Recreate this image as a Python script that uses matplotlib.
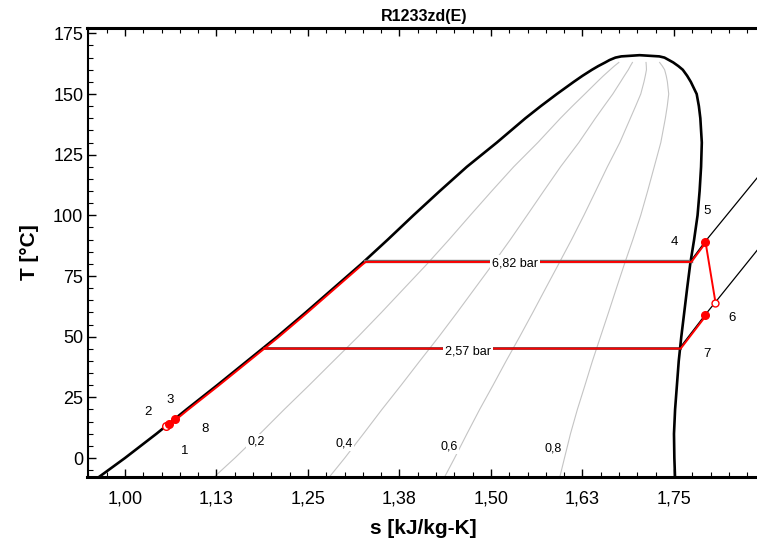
import numpy as np
import matplotlib.pyplot as plt
from matplotlib.ticker import MultipleLocator
from matplotlib import transforms

plt.rcParams['font.family'] = ['Liberation Sans', 'DejaVu Sans']

# saturation dome
T_sat = [-7.7, 0, 10, 20, 30, 40, 50, 60, 70, 80, 90, 100, 110, 120,
         130, 140, 145, 150, 155, 157.5, 160, 161.5, 163, 164, 165, 165.5, 166]
s_liq = [0.965, 1.000, 1.043, 1.084, 1.126, 1.167, 1.208, 1.247, 1.285, 1.323,
         1.359, 1.394, 1.430, 1.467, 1.508, 1.547, 1.568, 1.590, 1.613, 1.625,
         1.638, 1.6465, 1.656, 1.662, 1.670, 1.678, 1.703]
s_vap = [1.7514, 1.7505, 1.7500, 1.7515, 1.7540, 1.7565, 1.7600, 1.7640, 1.7680,
         1.7722, 1.7775, 1.7822, 1.7850, 1.7870, 1.7880, 1.7860, 1.7840, 1.7810,
         1.7730, 1.7680, 1.7620, 1.7560, 1.7490, 1.7430, 1.7370, 1.7300, 1.703]

# vapour quality lines
qualities = [0.2, 0.4, 0.6, 0.8]
q_labels = ["0,2", "0,4", "0,6", "0,8"]
q_label_s = [1.179, 1.2996, 1.443, 1.585]
q_label_T = [6.7, 6.0, 4.7, 4.0]
q_T_max = 163

# isobars
p_labels = ["6,82 bar", "2,57 bar"]
p_T = [81.2, 45.5]
p_s_liq = [1.3279, 1.1895]
p_s_vap = [1.7728, 1.7582]
p_label_s = [1.5328, 1.469]
p_label_T = [80.2, 43.8]
hp_sup_s = [1.7728, 1.7923, 1.87]
hp_sup_T = [81.2, 89.1, 117.8]
lp_sup_s = [1.7582, 1.7923, 1.806, 1.87]
lp_sup_T = [45.5, 58.9, 64.0, 88.0]

# cycle state points
s_p2, T_p2 = 1.0597, 14.1
s_p2o, T_p2o = 1.0565, 13.3
s_p3, T_p3 = 1.0687, 16.2
s_p5, T_p5 = 1.7923, 89.1
s_p6, T_p6 = 1.806, 64.0
s_p6b, T_p6b = 1.7923, 58.9

num_labels = ["1", "2", "3", "4", "5", "6", "7", "8"]
num_s = [1.082, 1.0318, 1.0615, 1.750, 1.7946, 1.8288, 1.7946, 1.1093]
num_T = [3.0, 18.8, 23.9, 89.1, 101.9, 57.6, 42.9, 11.8]

xticks = [1.0, 1.125, 1.25, 1.375, 1.5, 1.625, 1.75]
xtick_labels = ["1,00", "1,13", "1,25", "1,38", "1,50", "1,63", "1,75"]
yticks = [0, 25, 50, 75, 100, 125, 150, 175]

W, H = 757, 547
fig = plt.figure(figsize=(W / 100, H / 100), dpi=100)
ax = fig.add_axes([87.5 / W, 1 - 476.7 / H, (760 - 87.5) / W, (476.7 - 28) / H])

T_arr = np.array(T_sat)
sl = np.array(s_liq)
sv = np.array(s_vap)

# quality lines
m = T_arr <= q_T_max
for q, lab, ls, lt in zip(qualities, q_labels, q_label_s, q_label_T):
    ax.plot(sl[m] + q * (sv[m] - sl[m]), T_arr[m], color='#c4c4c4', lw=0.8, zorder=1)
    ax.text(ls, lt, lab, fontsize=9, ha='center', va='center',
            bbox=dict(facecolor='white', edgecolor='none', pad=1.0), zorder=2)

# dome
ax.plot(np.concatenate([sl, sv[::-1][1:]]), np.concatenate([T_arr, T_arr[::-1][1:]]),
        color='black', lw=1.9, zorder=3)

# isobars
iso_cols = ['#6e6e6e', '#303030']
iso_lw = [2.4, 1.8]
for i in range(2):
    ax.plot([p_s_liq[i], p_s_vap[i]], [p_T[i], p_T[i]], color=iso_cols[i], lw=iso_lw[i], zorder=3)
ax.plot(hp_sup_s, hp_sup_T, color='black', lw=0.9, zorder=3)
ax.plot(lp_sup_s, lp_sup_T, color='black', lw=0.9, zorder=3)

# cycle (red), slightly offset below the black lines
off = transforms.offset_copy(ax.transData, fig=fig, x=0.5, y=-0.7, units='points')
mliq = (T_arr > T_p3) & (T_arr < p_T[0])
path1_s = [s_p3] + list(sl[mliq]) + [p_s_liq[0], p_s_vap[0], s_p5, s_p6]
path1_T = [T_p3] + list(T_arr[mliq]) + [p_T[0], p_T[0], T_p5, T_p6]
ax.plot(path1_s, path1_T, color='red', lw=1.4, transform=off, zorder=4)
path2_s = [s_p6b, p_s_vap[1], p_s_liq[1]]
path2_T = [T_p6b, p_T[1], p_T[1]]
ax.plot(path2_s, path2_T, color='red', lw=1.4, transform=off, zorder=4)

for i in range(2):
    ax.text(p_label_s[i], p_label_T[i], p_labels[i], fontsize=9, ha='center', va='center',
            bbox=dict(facecolor='white', edgecolor='none', pad=1.5), zorder=5)

# state markers
ax.plot([s_p2o], [T_p2o], 'o', ms=5.5, mfc='white', mec='red', mew=1, zorder=6)
ax.plot([s_p2, s_p3, s_p5, s_p6b], [T_p2, T_p3, T_p5, T_p6b], 'o', ms=5.5, color='red', zorder=7)
ax.plot([s_p6], [T_p6], 'o', ms=5, mfc='white', mec='red', mew=1, zorder=7)

for lab, s, t in zip(num_labels, num_s, num_T):
    ax.text(s, t, lab, fontsize=9.5, ha='center', va='center', zorder=8)

ax.set_xlim(0.9488, 1.8675)
ax.set_ylim(-7.7, 177.2)
ax.set_xticks(xticks)
ax.set_xticklabels(xtick_labels)
ax.set_yticks(yticks)
ax.xaxis.set_minor_locator(MultipleLocator(0.025))
ax.yaxis.set_minor_locator(MultipleLocator(5))
ax.tick_params(which='both', direction='in', top=True, right=False, labelsize=13)
ax.tick_params(which='major', length=6, width=1)
ax.tick_params(which='minor', length=3.5, width=0.8)
ax.tick_params(axis='x', pad=10)
ax.tick_params(axis='y', pad=3)
ax.spines['right'].set_visible(False)
ax.spines['top'].set_linewidth(2.2)
ax.spines['bottom'].set_linewidth(2.2)
ax.spines['left'].set_linewidth(1.5)

ax.set_xlabel("s [kJ/kg-K]", fontsize=15, fontweight='bold', labelpad=8)
ax.set_ylabel("T [°C]", fontsize=15, fontweight='bold', labelpad=10)
ax.set_title("R1233zd(E)", fontsize=11.5, fontweight='bold', pad=5)

fig.savefig("out.png", dpi=100)
